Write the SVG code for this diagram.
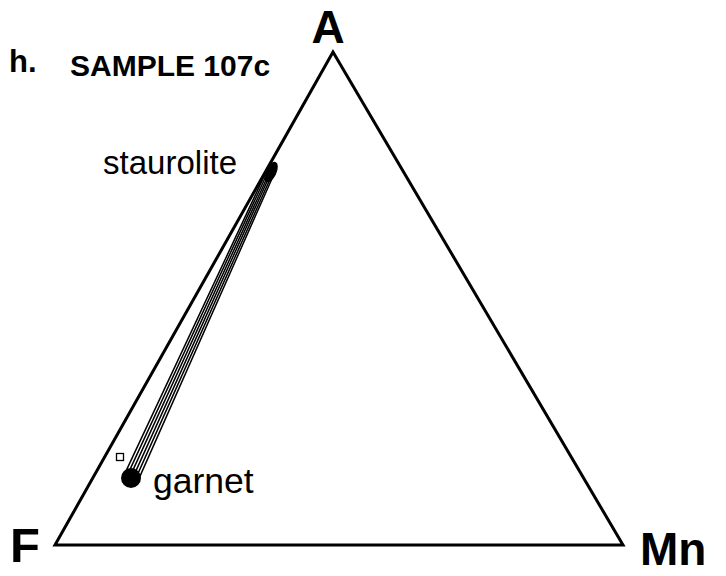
<svg xmlns="http://www.w3.org/2000/svg" width="726" height="576" viewBox="0 0 726 576">
<style>
.lbl{font-family:"Liberation Sans",Arial,sans-serif;fill:#000}
.b{font-weight:bold}
.tie{stroke:#000;stroke-width:1.5;fill:none;stroke-linecap:round}
</style>
<rect width="726" height="576" fill="#fff"/>
<g id="triangle">
<polygon points="333,52 55,545 623,545" fill="none" stroke="#000" stroke-width="3" stroke-linejoin="miter"/>
</g>
<g id="connectors">
<line class="tie" x1="124.2" y1="474.9" x2="267.4" y2="169.3"/>
<line class="tie" x1="126.9" y1="476.1" x2="268.8" y2="170.0"/>
<line class="tie" x1="129.6" y1="477.4" x2="270.3" y2="170.7"/>
<line class="tie" x1="132.4" y1="478.6" x2="271.7" y2="171.3"/>
<line class="tie" x1="135.1" y1="479.9" x2="273.2" y2="172.0"/>
<line class="tie" x1="137.8" y1="481.1" x2="274.6" y2="172.7"/>
</g>
<g id="staurolite">
<ellipse cx="271" cy="172" rx="5.5" ry="11" transform="rotate(25 271 172)" fill="#000"/>
<text class="lbl" x="237" y="174" font-size="33" text-anchor="end">staurolite</text>
</g>
<g id="garnet">
<circle cx="131" cy="478" r="10" fill="#000"/>
<text class="lbl" x="153" y="493" font-size="35.5">garnet</text>
</g>
<g id="square">
<rect x="116.5" y="453.5" width="7" height="7" fill="#fff" stroke="#000" stroke-width="1.3"/>
</g>
<g id="labels">
<text class="lbl b" x="328" y="43" font-size="46" text-anchor="middle">A</text>
<text class="lbl b" x="10" y="562" font-size="49">F</text>
<text class="lbl b" x="640" y="565" font-size="46">Mn</text>
<text class="lbl b" x="9" y="72" font-size="31">h.</text>
<text class="lbl b" x="70" y="76" font-size="30">SAMPLE 107c</text>
</g>
</svg>
